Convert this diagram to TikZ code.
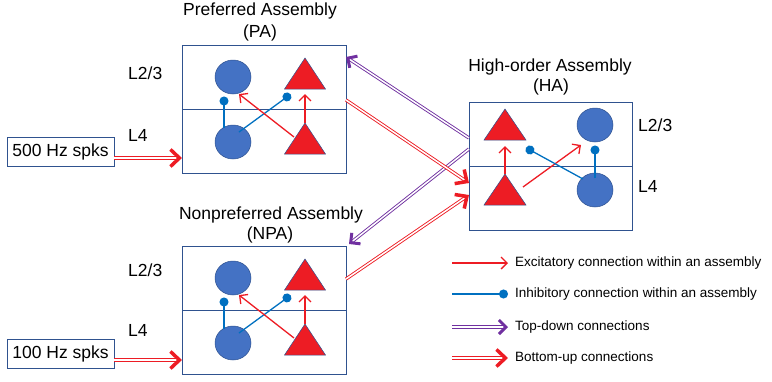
\documentclass[tikz,border=0pt]{standalone}
\usepackage{fontspec}
\setmainfont{Liberation Sans}
\usetikzlibrary{arrows.meta,shapes.geometric}
\definecolor{boxblue}{RGB}{47,82,143}
\definecolor{cblue}{RGB}{68,114,196}
\definecolor{ered}{RGB}{237,28,36}
\definecolor{iblue}{RGB}{0,112,192}
\definecolor{tdpurple}{RGB}{112,48,160}
\tikzset{
  asmbox/.style={draw=boxblue, line width=1.3pt, inner sep=0pt, anchor=north west},
  divline/.style={draw=boxblue, line width=1.3pt},
  cell/.style={ellipse, fill=cblue, draw=boxblue, line width=0.5pt, minimum width=36pt, minimum height=34pt, inner sep=0pt},
  tri/.style={fill=ered, draw=boxblue, line width=0.5pt},
  exc/.style={draw=ered, line width=1.3pt, -{Straight Barb[length=6pt,width=12pt,line width=1.3pt]}},
  inh/.style={draw=iblue, line width=1.3pt, -{Circle[length=9pt]}},
  td/.style={draw=tdpurple, double=white, double distance=1.5pt, line width=0.9pt, -{Straight Barb[length=7pt,width=14pt,line width=3pt]}},
  bu/.style={draw=ered, double=white, double distance=1.5pt, line width=0.9pt, -{Straight Barb[length=9pt,width=17pt,line width=3.5pt]}},
  inbox/.style={draw=boxblue, line width=1pt, minimum width=107pt, minimum height=29pt, inner sep=0pt},
  lab/.style={anchor=base, inner sep=0pt},
  lglab/.style={anchor=west, inner sep=0pt, font=\fontsize{13.5}{16}\selectfont},
}
\newcommand\lowasm[3]{%
\begin{scope}[shift={(#2,#3)}]
  \node[asmbox, minimum width=164pt, minimum height=128pt] (#1box) at (0,0) {};
  \draw[divline] (#1box.west) -- (#1box.east);
  \node[cell] (#1c1) at (51,32) {};
  \node[cell] (#1c2) at (51,97) {};
  \coordinate (#1t1) at (123,13);
  \coordinate (#1t2) at (123,78);
  \filldraw[tri] (#1t1) -- ++(20.5,31) -- ++(-41,0) -- cycle;
  \filldraw[tri] (#1t2) -- ++(20.5,31) -- ++(-41,0) -- cycle;
  \coordinate (#1i1a) at (42,83);
  \coordinate (#1i1b) at (42,51.5);
  \coordinate (#1i2a) at (57,87);
  \coordinate (#1i2b) at (108.6,49.3);
  \draw[inh] (#1i1a) -- (#1i1b);
  \draw[inh] (#1i2a) -- (#1i2b);
  \coordinate (#1e1b) at (123,49);
  \coordinate (#1e2a) at (112,92);
  \coordinate (#1e2b) at (57,49);
  \draw[exc] (#1t2) -- (#1e1b);
  \draw[exc] (#1e2a) -- (#1e2b);
\end{scope}}
\begin{document}
\begin{tikzpicture}[x=1pt,y=-1pt,font=\fontsize{17.5}{21}\selectfont]
\useasboundingbox (0,0) rectangle (772,381);
% Preferred and nonpreferred assemblies
\lowasm{pa}{182}{45}
\lowasm{npa}{182}{246}
% High-order assembly
\begin{scope}[shift={(469,102)}]
  \node[asmbox, minimum width=163pt, minimum height=128pt] (habox) at (0,0) {};
  \draw[divline] (habox.west) -- (habox.east);
  \node[cell] (hac1) at (126,23) {};
  \node[cell] (hac2) at (126,88) {};
  \coordinate (hat1) at (36,7);
  \coordinate (hat2) at (36,72);
  \filldraw[tri] (hat1) -- ++(21,31) -- ++(-42,0) -- cycle;
  \filldraw[tri] (hat2) -- ++(21,31) -- ++(-42,0) -- cycle;
  \coordinate (hae1b) at (36,44);
  \coordinate (hae2a) at (54,85);
  \coordinate (hae2b) at (112,43);
  \draw[exc] (hat2) -- (hae1b);
  \draw[exc] (hae2a) -- (hae2b);
  \coordinate (hai1a) at (114,77);
  \coordinate (hai1b) at (57,45.8);
  \coordinate (hai2a) at (126,76);
  \coordinate (hai2b) at (126,43.5);
  \draw[inh] (hai1a) -- (hai1b);
  \draw[inh] (hai2a) -- (hai2b);
\end{scope}
% titles and layer labels
\node[lab] (pat1) at (260,15) {Preferred Assembly};
\node[lab] (pat2) at (260,37) {(PA)};
\node[lab] (npat1) at (271,219) {Nonpreferred Assembly};
\node[lab] (npat2) at (270,239) {(NPA)};
\node[lab] (hat1l) at (550,71) {High-order Assembly};
\node[lab] (hat2l) at (551,91) {(HA)};
\node[lab, anchor=base west] (pal23) at (128,79) {L2/3};
\node[lab, anchor=base west] (pal4) at (128,141) {L4};
\node[lab, anchor=base west] (npal23) at (128,276) {L2/3};
\node[lab, anchor=base west] (npal4) at (128,336) {L4};
\node[lab, anchor=base west] (hal23) at (638,131) {L2/3};
\node[lab, anchor=base west] (hal4) at (638,192) {L4};
% input boxes
\node[inbox] (in500) at (60.5,152) {500 Hz spks};
\node[inbox] (in100) at (60.5,354) {100 Hz spks};
\coordinate (in500o) at (114,158);
\coordinate (pain) at (182,158);
\coordinate (in100o) at (114,360);
\coordinate (npain) at (182,360);
\draw[bu] (in500o) -- (pain);
\draw[bu] (in100o) -- (npain);
% inter-assembly connections
\coordinate (hatd1) at (469,138);
\coordinate (patd) at (346,57);
\coordinate (hatd2) at (469,149);
\coordinate (npatd) at (349,244);
\coordinate (pabu) at (346,100);
\coordinate (habu1) at (469,183);
\coordinate (npabu) at (346,279);
\coordinate (habu2) at (469,195);
\draw[td] (hatd1) -- (patd);
\draw[td] (hatd2) -- (npatd);
\draw[bu] (pabu) -- (habu1);
\draw[bu] (npabu) -- (habu2);
% legend
\coordinate (lg1a) at (452,263); \coordinate (lg1b) at (508,263);
\coordinate (lg2a) at (452,294); \coordinate (lg2b) at (508,294);
\coordinate (lg3a) at (452,327); \coordinate (lg3b) at (508,327);
\coordinate (lg4a) at (452,358); \coordinate (lg4b) at (508,358);
\draw[exc] (lg1a) -- (lg1b);
\draw[inh] (lg2a) -- (lg2b);
\draw[td] (lg3a) -- (lg3b);
\draw[bu] (lg4a) -- (lg4b);
\node[lglab] (lgt1) at (515,263) {Excitatory connection within an assembly};
\node[lglab] (lgt2) at (515,294) {Inhibitory connection within an assembly};
\node[lglab] (lgt3) at (515,327) {Top-down connections};
\node[lglab] (lgt4) at (515,358) {Bottom-up connections};
\end{tikzpicture}
\end{document}
